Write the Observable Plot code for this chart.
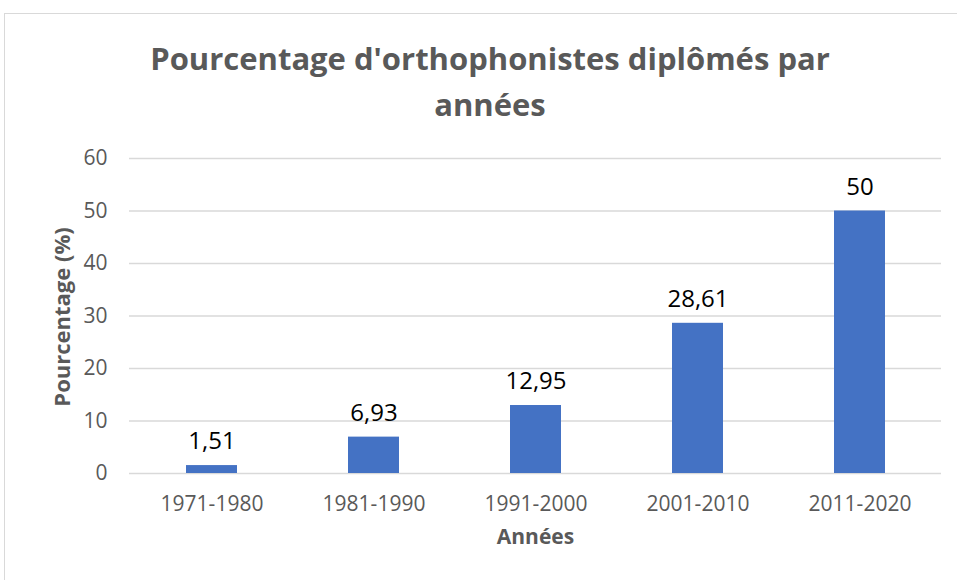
<!DOCTYPE html>
<html>
<head>
<meta charset="utf-8">
<script src="https://cdn.jsdelivr.net/npm/d3@7"></script>
<script src="https://cdn.jsdelivr.net/npm/@observablehq/plot@0.6"></script>
<style>
  html, body { margin: 0; padding: 0; background: #fff; }
  #page { position: relative; width: 957px; height: 580px; overflow: hidden; }
  #frame { position: absolute; left: 4px; top: 13px; width: 980px; height: 620px; border: 1px solid #d9d9d9; box-sizing: border-box; }
  #title { position: absolute; left: 5px; top: 35px; width: 970px; text-align: center;
           font-family: "Open Sans", sans-serif; font-weight: 700; font-size: 31px; line-height: 46px; color: #595959; }
  #chart { position: absolute; left: 5px; top: 127px; }
</style>
</head>
<body>
<div id="page">
  <div id="frame"></div>
  <div id="title">Pourcentage d'orthophonistes diplômés par<br>années</div>
  <div id="chart"></div>
</div>
<script>
const categories = ["1971-1980", "1981-1990", "1991-2000", "2001-2010", "2011-2020"];
const values = [1.51, 6.93, 12.95, 28.61, 50];
const valueLabels = ["1,51", "6,93", "12,95", "28,61", "50"];
const yTicks = [0, 10, 20, 30, 40, 50, 60];
const xTitle = "Années";
const yTitle = "Pourcentage (%)";

const data = categories.map((c, i) => ({cat: c, value: values[i], label: valueLabels[i]}));

const chart = Plot.plot({
  width: 952,
  height: 453,
  marginLeft: 124,
  marginRight: 16,
  marginTop: 31,
  marginBottom: 107,
  style: {fontFamily: "'Open Sans', sans-serif", fontSize: "21px", color: "#595959", background: "transparent", overflow: "visible"},
  x: {domain: categories, paddingInner: 0.686, paddingOuter: 0.343, label: null},
  y: {domain: [0, 60], label: null},
  marks: [
    Plot.gridY(yTicks, {stroke: "#d9d9d9", strokeOpacity: 1, strokeWidth: 1.5}),
    Plot.barY(data, {x: "cat", y: "value", fill: "#4472C4"}),
    Plot.text(data, {x: "cat", y: "value", text: "label", dy: -24, fontSize: 24, fill: "#000"}),
    Plot.axisX({tickSize: 0, tickPadding: 23, fontSize: 21, fill: "#595959", label: null}),
    Plot.axisY(yTicks, {tickSize: 0, tickPadding: 22, fontSize: 21, fill: "#595959", label: null}),
    Plot.text([xTitle], {frameAnchor: "bottom", dy: 70, text: d => d, fontSize: 21, fontWeight: "bold", fill: "#595959"}),
    Plot.text([yTitle], {frameAnchor: "left", textAnchor: "middle", dx: -67, dy: 1, rotate: -90, text: d => d, fontSize: 22, fontWeight: "bold", fill: "#595959"})
  ]
});
document.getElementById("chart").appendChild(chart);
</script>
</body>
</html>
